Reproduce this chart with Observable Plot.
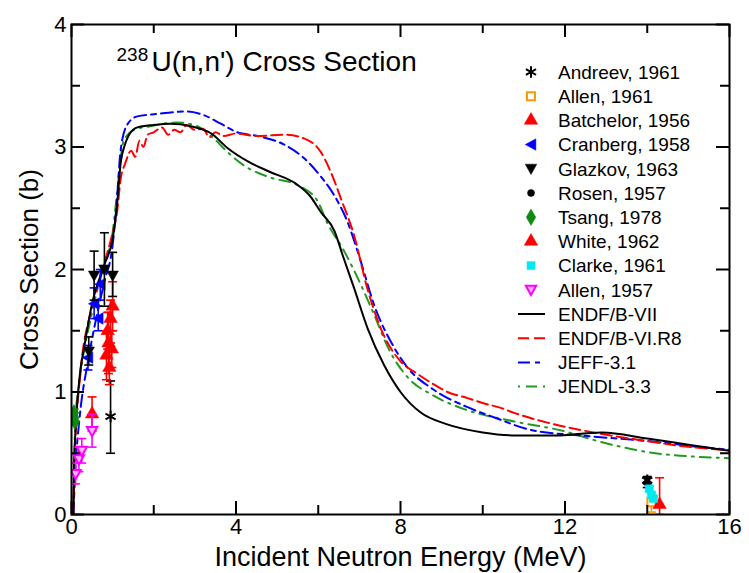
<!DOCTYPE html>
<html>
<head>
<meta charset="utf-8">
<script src="https://cdn.jsdelivr.net/npm/d3@7"></script>
<script src="https://cdn.jsdelivr.net/npm/@observablehq/plot@0.6"></script>
<style>
  body { margin: 0; background: #fff; }
  #chart { position: relative; width: 749px; height: 573px; font-family: "Liberation Sans", Arial, sans-serif; }
  #legend { position: absolute; left: 0; top: 0; pointer-events: none; }
</style>
</head>
<body>
<div id="chart"></div>
<script>
// Evaluated 238U(n,n') cross sections, [energy MeV, barns]
const endfB7 = [[0.045,0],[0.06,0.35],[0.1,0.7],[0.15,0.95],[0.22,1.19],[0.3,1.35],[0.5,1.72],[0.8,2.04],[1.0,2.25],[1.1,2.5],[1.2,2.88],[1.3,3.02],[1.4,3.1],[1.6,3.16],[2.0,3.18],[2.4,3.19],[2.9,3.17],[3.4,3.11],[3.8,2.99],[4.3,2.88],[4.8,2.8],[5.5,2.69],[5.8,2.6],[6.06,2.47],[6.4,2.31],[6.6,2.11],[6.87,1.85],[7.2,1.52],[7.6,1.22],[8.0,1.0],[8.5,0.83],[9.1,0.74],[10.0,0.67],[10.8,0.645],[11.8,0.645],[12.4,0.66],[12.9,0.67],[14.0,0.62],[15.0,0.57],[16.0,0.52]];
const endfB6 = [[0.045,0],[0.06,0.3],[0.1,0.65],[0.2,1.1],[0.5,1.7],[0.8,2.05],[1.0,2.3],[1.1,2.45],[1.2,2.75],[1.3,2.86],[1.45,2.97],[1.55,2.92],[1.65,3.05],[1.75,3.0],[1.85,3.1],[2.0,3.12],[2.2,3.16],[2.35,3.1],[2.5,3.14],[2.65,3.12],[2.8,3.18],[3.0,3.14],[3.2,3.15],[3.35,3.08],[3.5,3.12],[3.7,3.09],[4.0,3.11],[4.5,3.09],[5.2,3.1],[5.65,3.07],[6.06,2.96],[6.3,2.8],[6.55,2.58],[6.87,2.28],[7.19,1.85],[7.52,1.52],[8.0,1.25],[8.4,1.15],[8.82,1.06],[9.14,1.0],[9.63,0.95],[10.0,0.91],[10.44,0.87],[10.76,0.83],[11.57,0.75],[12.38,0.69],[13.2,0.64],[14.0,0.6],[14.8,0.56],[16.0,0.525]];
const jeff31 = [[0.045,0],[0.1,0.4],[0.2,0.8],[0.4,1.25],[0.6,1.6],[0.8,1.9],[1.0,2.2],[1.1,2.55],[1.19,2.96],[1.35,3.18],[1.6,3.25],[2.08,3.27],[2.81,3.29],[3.22,3.26],[3.63,3.19],[4.03,3.12],[4.52,3.09],[5.17,3.02],[5.65,2.91],[6.06,2.76],[6.38,2.61],[6.71,2.39],[7.03,2.07],[7.36,1.71],[7.85,1.36],[8.17,1.2],[8.8,1.02],[9.6,0.88],[10.3,0.79],[11.17,0.69],[12.38,0.645],[14.0,0.6],[15.6,0.54],[16.0,0.53]];
const jendl33 = [[0.045,0],[0.07,0.5],[0.1,0.8],[0.2,1.1],[0.5,1.65],[0.8,2.05],[1.0,2.3],[1.1,2.6],[1.27,3.05],[1.52,3.14],[1.92,3.17],[2.57,3.2],[3.06,3.17],[3.46,3.07],[3.79,2.96],[4.19,2.85],[4.84,2.75],[5.49,2.69],[5.98,2.56],[6.22,2.38],[6.63,2.15],[7.03,1.88],[7.36,1.63],[7.7,1.36],[8.2,1.11],[8.75,0.98],[9.55,0.86],[10.76,0.76],[11.98,0.68],[12.79,0.6],[14.0,0.51],[15.6,0.465],[16.0,0.46]];

// Measurements: energy (MeV), cross section (b), lower and upper error limits
const andreev1961   = [[0.95,0.80,0.50,1.09],[14.0,0.28,0.25,0.31]];
const allen1961     = [[14.1,0.10,0.02,0.18]];
const batchelor1956 = [[0.5,0.82,0.68,0.96],[0.9,1.4,1.15,1.65],[1.0,1.7,1.5,1.9]];
const cranberg1958  = [[0.4,1.28,1.18,1.38],[0.55,1.72,1.6,1.85],[0.65,1.6,1.5,1.7],[0.7,1.88,1.75,2.0]];
const glazkov1963   = [[0.42,1.33,1.22,1.45],[0.55,1.95,1.75,2.15],[0.8,2.0,1.7,2.3],[1.0,1.95,1.78,2.14]];
const rosen1957     = [[14.0,0.26,0.22,0.30]];
const tsang1978     = [[0.06,0.83,0.8,0.86],[0.08,0.76,0.73,0.79]];
const white1962     = [[0.85,1.3,1.1,1.5],[0.88,1.5,1.35,1.65],[0.92,1.2,1.06,1.35],[0.95,1.6,1.4,1.75],[0.98,1.35,1.2,1.5],[14.3,0.08,0.0,0.3]];
const clarke1961    = [[14.05,0.21,0.19,0.23],[14.1,0.16,0.14,0.18],[14.15,0.13,0.11,0.15]];
const allen1957     = [[0.1,0.33,0.25,0.42],[0.18,0.45,0.35,0.55],[0.25,0.52,0.42,0.62],[0.5,0.68,0.55,0.82]];

const xMajor = [0, 4, 8, 12, 16];
const xMinor = [2, 6, 10, 14];
const yMajor = [0, 1, 2, 3, 4];
const yMinor = [0.5, 1.5, 2.5, 3.5];

// Custom marker shapes
const triLeft = { draw(ctx, size) { const r = Math.sqrt(size / Math.PI) * 1.15;
  ctx.moveTo(-r, 0); ctx.lineTo(r * 0.85, -r); ctx.lineTo(r * 0.85, r); ctx.closePath(); } };
const triDown = { draw(ctx, size) { const r = Math.sqrt(size / Math.PI) * 1.15;
  ctx.moveTo(0, r); ctx.lineTo(-r, -r * 0.8); ctx.lineTo(r, -r * 0.8); ctx.closePath(); } };
const capBar = { draw(ctx, size) { const r = Math.sqrt(size / Math.PI);
  ctx.moveTo(-r, 0); ctx.lineTo(r, 0); } };

const W = 749, H = 573, ML = 71, MR = 20, MT = 24, MB = 59;
const innerW = W - ML - MR, innerH = H - MT - MB;

const series = [
  {label: "Andreev, 1961",   data: andreev1961,   symbol: "asterisk", color: "black",   fill: "none",  r: 5.5},
  {label: "Allen, 1961",     data: allen1961,     symbol: "square",   color: "#ff9900", fill: "white", r: 4.5},
  {label: "Batchelor, 1956", data: batchelor1956, symbol: "triangle", color: "red",     fill: "red",   r: 5},
  {label: "Cranberg, 1958",  data: cranberg1958,  symbol: triLeft,    color: "blue",    fill: "blue",  r: 5},
  {label: "Glazkov, 1963",   data: glazkov1963,   symbol: triDown,    color: "black",   fill: "black", r: 5},
  {label: "Rosen, 1957",     data: rosen1957,     symbol: "circle",   color: "black",   fill: "black", r: 3.5},
  {label: "Tsang, 1978",     data: tsang1978,     symbol: "diamond",  color: "#118811", fill: "#118811", r: 5},
  {label: "White, 1962",     data: white1962,     symbol: "triangle", color: "red",     fill: "red",   r: 5},
  {label: "Clarke, 1961",    data: clarke1961,    symbol: "square",   color: "#00e8f0", fill: "#00e8f0", r: 4.5},
  {label: "Allen, 1957",     data: allen1957,     symbol: triDown,    color: "magenta", fill: "#ffb0ff", r: 4.5}
];

const evaluations = [
  {label: "ENDF/B-VII",    data: endfB7,  color: "black",   dash: null},
  {label: "ENDF/B-VI.R8",  data: endfB6,  color: "red",     dash: "11,5"},
  {label: "JEFF-3.1",      data: jeff31,  color: "blue",    dash: "12,5,5,5"},
  {label: "JENDL-3.3",     data: jendl33, color: "#229922", dash: "2,6,11,6"}
];

const font = "'Liberation Sans', Arial, sans-serif";

const tickMarks = [
  Plot.tickX(xMajor, {x: d => d, insetTop: innerH - 13, strokeWidth: 2}),
  Plot.tickX(xMajor, {x: d => d, insetBottom: innerH - 13, strokeWidth: 2}),
  Plot.tickX(xMinor, {x: d => d, insetTop: innerH - 9, strokeWidth: 2}),
  Plot.tickX(xMinor, {x: d => d, insetBottom: innerH - 9, strokeWidth: 2}),
  Plot.tickY(yMajor, {y: d => d, insetRight: innerW - 13, strokeWidth: 2}),
  Plot.tickY(yMajor, {y: d => d, insetLeft: innerW - 13, strokeWidth: 2}),
  Plot.tickY(yMinor, {y: d => d, insetRight: innerW - 9, strokeWidth: 2}),
  Plot.tickY(yMinor, {y: d => d, insetLeft: innerW - 9, strokeWidth: 2})
];

const curveMarks = evaluations.slice().reverse().map(s =>
  Plot.line(s.data, {x: d => d[0], y: d => d[1], stroke: s.color, strokeWidth: 2,
    strokeDasharray: s.dash, curve: "monotone-x", clip: true}));

const pointMarks = series.flatMap(s => [
  Plot.ruleX(s.data, {x: d => d[0], y1: d => d[2], y2: d => d[3], stroke: s.color, strokeWidth: 1.6, clip: true}),
  Plot.dot(s.data, {x: d => d[0], y: d => d[2], symbol: capBar, r: 4.5, stroke: s.color, strokeWidth: 1.6, clip: true}),
  Plot.dot(s.data, {x: d => d[0], y: d => d[3], symbol: capBar, r: 4.5, stroke: s.color, strokeWidth: 1.6, clip: true}),
  Plot.dot(s.data, {x: d => d[0], y: d => d[1], symbol: s.symbol, r: s.r, fill: s.fill,
    stroke: s.color, strokeWidth: s.symbol === "asterisk" ? 2 : (s.fill === s.color ? 0.5 : 2), clip: true})
]);

const chart = Plot.plot({
  width: W, height: H,
  marginLeft: ML, marginRight: MR, marginTop: MT, marginBottom: MB,
  style: {fontFamily: font, background: "white", color: "black"},
  x: {domain: [0, 16]},
  y: {domain: [0, 4]},
  marks: [
    Plot.axisX(xMajor, {anchor: "bottom", tickSize: 0, tickPadding: 4, fontSize: 22, label: null, tickFormat: d => String(d)}),
    Plot.axisY(yMajor, {anchor: "left", tickSize: 0, tickPadding: 5, fontSize: 22, label: null, tickFormat: d => String(d)}),
    ...curveMarks,
    ...pointMarks,
    ...tickMarks,
    Plot.frame({stroke: "black", strokeWidth: 2}),
    Plot.text(["Incident Neutron Energy (MeV)"], {frameAnchor: "bottom", textAnchor: "middle", lineAnchor: "bottom", dy: 51, fontSize: 27}),
    Plot.text(["Cross Section (b)"], {frameAnchor: "left", textAnchor: "middle", lineAnchor: "bottom", rotate: -90, dx: -34, fontSize: 26}),
    Plot.text(["238"], {frameAnchor: "top-left", textAnchor: "start", lineAnchor: "bottom", dx: 45, dy: 36, fontSize: 19}),
    Plot.text(["U(n,n') Cross Section"], {frameAnchor: "top-left", textAnchor: "start", lineAnchor: "bottom", dx: 80, dy: 46, fontSize: 28})
  ]
});

const host = document.getElementById("chart");
host.appendChild(chart);

// Key drawn on top of the plot area
const key = d3.select(host).append("svg").attr("id", "legend").attr("width", W).attr("height", H);
const rowY = i => 72 + i * 24.2;
series.forEach((s, i) => {
  const g = key.append("g").attr("transform", `translate(531,${rowY(i)})`);
  g.append("path").attr("d", d3.symbol(typeof s.symbol === "string" ? {
      asterisk: d3.symbolAsterisk, square: d3.symbolSquare, triangle: d3.symbolTriangle,
      circle: d3.symbolCircle, diamond: d3.symbolDiamond}[s.symbol] : s.symbol, Math.PI * s.r * s.r)())
    .attr("fill", s.fill).attr("stroke", s.color)
    .attr("stroke-width", s.symbol === "asterisk" ? 2 : (s.fill === s.color ? 0.5 : 2));
  key.append("text").attr("x", 558).attr("y", rowY(i)).attr("dy", "0.36em")
    .attr("font-family", font).attr("font-size", 19).text(s.label);
});
evaluations.forEach((s, i) => {
  const y = rowY(series.length + i);
  key.append("line").attr("x1", 518).attr("x2", 545).attr("y1", y).attr("y2", y)
    .attr("stroke", s.color).attr("stroke-width", 2).attr("stroke-dasharray", s.dash);
  key.append("text").attr("x", 558).attr("y", y).attr("dy", "0.36em")
    .attr("font-family", font).attr("font-size", 19).text(s.label);
});
</script>
</body>
</html>
